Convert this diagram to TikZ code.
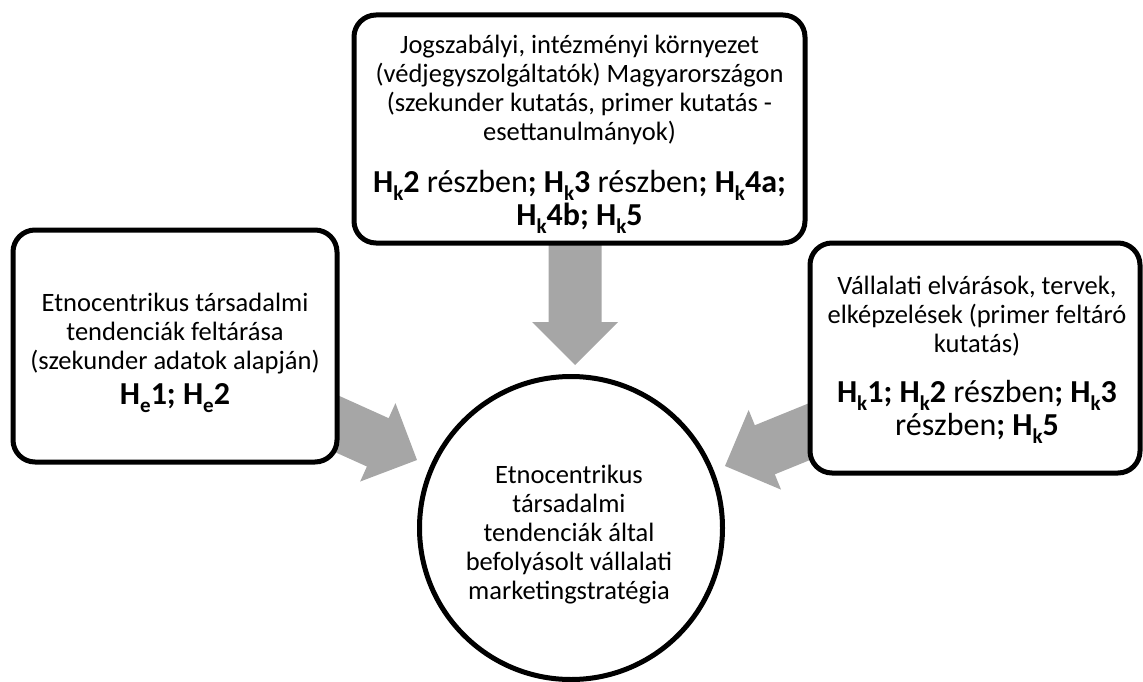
\documentclass[tikz,border=0pt]{standalone}
\usepackage{fontspec}
\setmainfont{Carlito}
\usetikzlibrary{calc}
\pgfdeclarelayer{bg}
\pgfsetlayers{bg,main}
\definecolor{arrowgray}{HTML}{A6A6A6}
\newcommand\hsub[1]{\raisebox{-0.26em}{\fontsize{21}{21}\selectfont #1}}
\newcommand\blockarrow[2]{%
  \coordinate (#2-hb) at ($(#2)!43pt!(#1)$);
  \fill[arrowgray] ($(#1)!26.5pt!90:(#2)$) -- ($(#2-hb)!26.5pt!90:(#2)$)
    -- ($(#2-hb)!43pt!90:(#2)$) -- (#2) -- ($(#2-hb)!43pt!-90:(#2)$)
    -- ($(#2-hb)!26.5pt!-90:(#2)$) -- ($(#1)!26.5pt!-90:(#2)$) -- cycle;}
\tikzset{
  box/.style={draw, line width=5pt, rounded corners=22pt, fill=white, inner sep=0pt},
  hub/.style={draw, circle, line width=5pt, fill=white, inner sep=0pt, minimum size=303pt},
  txt/.style={inner sep=0pt, align=flush center, anchor=base, font=\fontsize{26.5}{29}\selectfont},
  btxt/.style={inner sep=0pt, align=flush center, anchor=base, font=\fontsize{32}{33}\selectfont},
}
\begin{document}
\begin{tikzpicture}[x=1pt,y=-1pt]
\useasboundingbox (0,0) rectangle (1143,682);
% nodes
\node[box, minimum width=451pt, minimum height=228pt] (top) at (579.5,129) {};
\node[box, minimum width=324pt, minimum height=232pt] (left) at (175,346) {};
\node[box, minimum width=330pt, minimum height=230pt] (right) at (975,358) {};
\node[hub] (circ) at (571,528) {};
% connectors (block arrows) behind the boxes
\coordinate (startT) at (575,240);
\coordinate (tipT) at (575,365);
\coordinate (startL) at (306,410);
\coordinate (tipL) at (417,460);
\coordinate (startR) at (838,420);
\coordinate (tipR) at (725,466);
\begin{pgfonlayer}{bg}
\blockarrow{startT}{tipT}
\blockarrow{startL}{tipL}
\blockarrow{startR}{tipR}
\end{pgfonlayer}
% texts
\node[txt, text width=450pt] (topT) at (579.5,54) {Jogszabályi, intézményi környezet\\(védjegyszolgáltatók) Magyarországon\\(szekunder kutatás, primer kutatás -\\esettanulmányok)};
\node[btxt, text width=450pt] (topB) at (579.5,192) {\textbf{H\hsub{k}2} részben\textbf{; H\hsub{k}3} részben\textbf{; H\hsub{k}4a;}\\\textbf{H\hsub{k}4b; H\hsub{k}5}};
\node[txt, text width=320pt] (leftT) at (175,311) {Etnocentrikus társadalmi\\tendenciák feltárása\\(szekunder adatok alapján)};
\node[btxt, text width=320pt] (leftB) at (175,404) {\textbf{H\hsub{e}1; H\hsub{e}2}};
\node[txt, text width=325pt] (rightT) at (977,294) {Vállalati elvárások, tervek,\\elképzelések (primer feltáró\\kutatás)};
\node[btxt, text width=325pt] (rightB) at (977,402) {\textbf{H\hsub{k}1; H\hsub{k}2} részben\textbf{; H\hsub{k}3}\\részben\textbf{; H\hsub{k}5}};
\node[txt, text width=290pt] (circT) at (569,483) {Etnocentrikus\\társadalmi\\tendenciák által\\befolyásolt vállalati\\marketingstratégia};
\end{tikzpicture}
\end{document}
